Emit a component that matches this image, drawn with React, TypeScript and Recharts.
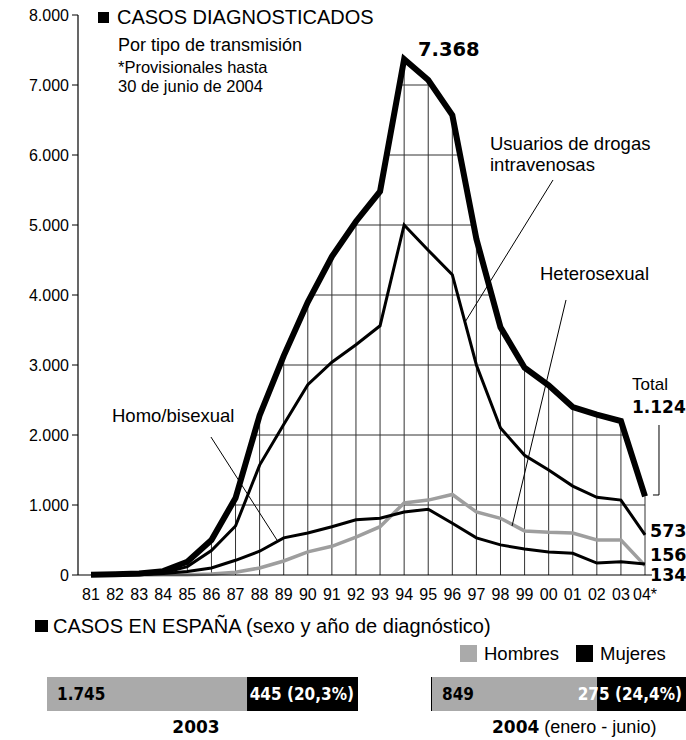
import React from "react";
import { ComposedChart, Line, XAxis, YAxis, ReferenceLine, BarChart, Bar, LabelList } from "recharts";

// años 1981-2004 (2004 provisional hasta junio)
const years = [81, 82, 83, 84, 85, 86, 87, 88, 89, 90, 91, 92, 93, 94, 95, 96, 97, 98, 99, 100, 101, 102, 103, 104];
const yearLabels = ["81", "82", "83", "84", "85", "86", "87", "88", "89", "90", "91", "92", "93", "94", "95", "96", "97", "98", "99", "00", "01", "02", "03", "04*"];

const total = [5, 10, 20, 55, 190, 500, 1100, 2280, 3130, 3900, 4550, 5050, 5480, 7368, 7070, 6570, 4800, 3540, 2960, 2710, 2400, 2290, 2200, 1124];
const drogas = [0, 5, 10, 30, 120, 350, 700, 1570, 2150, 2720, 3040, 3290, 3560, 5000, 4640, 4290, 3000, 2100, 1710, 1500, 1270, 1110, 1070, 573];
const homo = [0, 0, 5, 20, 50, 100, 210, 340, 530, 600, 690, 790, 810, 900, 940, 740, 530, 430, 370, 330, 310, 170, 190, 156];
const hetero = [0, 0, 0, 2, 5, 15, 40, 100, 200, 330, 410, 540, 690, 1030, 1070, 1150, 900, 810, 630, 610, 600, 500, 500, 134];

const yTicks = [0, 1000, 2000, 3000, 4000, 5000, 6000, 7000, 8000];

// casos en España por sexo
const sexYears = ["2003", "2004"];
const hombres = [1745, 849];
const mujeres = [445, 275];
const pctMujeres = ["20,3", "24,4"];

const rows = years.map((y, i) => ({ year: y, total: total[i], drogas: drogas[i], homo: homo[i], hetero: hetero[i] }));

const SANS = "'Liberation Sans', Arial, Helvetica, sans-serif";
const BOLD = "'DejaVu Sans', 'Liberation Sans', sans-serif";
const COND = "'DejaVu Sans Condensed', 'DejaVu Sans', sans-serif";

const fmt = (v: number) => (v >= 1000 ? `${Math.floor(v / 1000)}.${String(v % 1000).padStart(3, "0")}` : String(v));

// tramos horizontales de la rejilla, recortados bajo la curva total
function gridRows() {
  const out: { k: number; x1: number; x2: number }[] = [];
  for (const k of yTicks.slice(1, -1)) {
    let x1: number | null = null;
    let x2: number | null = null;
    for (let i = 0; i < total.length - 1; i++) {
      const a = total[i], b = total[i + 1];
      if (x1 === null && a < k && b >= k) x1 = years[i] + (k - a) / (b - a);
      if (a >= k && b < k) x2 = years[i] + (a - k) / (a - b);
    }
    if (x1 === null) continue;
    if (x2 === null || x2 < x1) x2 = years[years.length - 1];
    out.push({ k, x1, x2 });
  }
  return out;
}

const GRID = "#333";

function HombresLabel(props: any) {
  const vb = props.viewBox || props;
  const x = Math.max(vb.x, 0) + 10;
  return (
    <text x={x} y={vb.y + vb.height / 2} dy="0.36em" fill="#000" fontFamily={COND} fontWeight="bold" fontSize={17} style={{ fontStretch: "condensed" }}>
      {fmt(props.value)}
    </text>
  );
}

function makeMujeresLabel(pct: string) {
  return function MujeresLabel(props: any) {
    const vb = props.viewBox || props;
    return (
      <text x={vb.x + vb.width - 4} y={vb.y + vb.height / 2} dy="0.36em" textAnchor="end" fill="#fff" fontFamily={COND} fontWeight="bold" fontSize={17} style={{ fontStretch: "condensed" }}>
        {`${props.value} (${pct}%)`}
      </text>
    );
  };
}

function SexBar({ idx, width, min }: { idx: number; width: number; min: number }) {
  const data = [{ name: sexYears[idx], hombres: hombres[idx], mujeres: mujeres[idx] }];
  return (
    <BarChart width={width} height={34} layout="vertical" data={data} margin={{ top: 0, right: 0, left: 0, bottom: 0 }} barCategoryGap={0}>
      <XAxis type="number" hide domain={[min, hombres[idx] + mujeres[idx]]} allowDataOverflow />
      <YAxis type="category" dataKey="name" hide />
      <Bar dataKey="hombres" stackId="s" fill="#aaaaaa" isAnimationActive={false}>
        <LabelList dataKey="hombres" content={HombresLabel} />
      </Bar>
      <Bar dataKey="mujeres" stackId="s" fill="#000" isAnimationActive={false}>
        <LabelList dataKey="mujeres" content={makeMujeresLabel(pctMujeres[idx])} />
      </Bar>
    </BarChart>
  );
}

export default function App() {
  const hrows = gridRows();
  const t = { fontFamily: SANS, fill: "#000" };
  return (
    <div style={{ position: "absolute", left: 0, top: 0, width: 686, height: 740, overflow: "hidden", background: "#fff" }}>
      <div style={{ position: "absolute", left: 0, top: 0 }}>
        <ComposedChart width={686} height={610} data={rows} margin={{ top: 15, right: 34, left: 0, bottom: 5 }}>
          <XAxis
            dataKey="year"
            type="number"
            domain={[80.46, 104.29]}
            allowDataOverflow
            ticks={years}
            interval={0}
            tickFormatter={(v: number) => yearLabels[years.indexOf(v)]}
            tickLine={false}
            tickSize={6}
            tickMargin={8}
            height={30}
            axisLine={{ stroke: "#000", strokeWidth: 1.2 }}
            tick={{ fill: "#000", fontSize: 16, fontFamily: SANS }}
          />
          <YAxis
            type="number"
            domain={[0, 8000]}
            ticks={yTicks}
            interval={0}
            tickFormatter={fmt}
            width={78}
            tickSize={6}
            tickMargin={3}
            axisLine={{ stroke: "#000", strokeWidth: 1.2 }}
            tickLine={{ stroke: "#000" }}
            tick={{ fill: "#000", fontSize: 16, fontFamily: SANS }}
          />
          {/* rejilla bajo la curva total */}
          {rows.map((r) => (
            <ReferenceLine key={"v" + r.year} segment={[{ x: r.year, y: 0 }, { x: r.year, y: r.total }]} stroke={GRID} strokeWidth={1} />
          ))}
          {hrows.map((h) => (
            <ReferenceLine key={"h" + h.k} segment={[{ x: h.x1, y: h.k }, { x: h.x2, y: h.k }]} stroke={GRID} strokeWidth={1} />
          ))}

          <Line type="linear" dataKey="hetero" stroke="#9e9e9e" strokeWidth={3.5} dot={false} isAnimationActive={false} />
          <Line type="linear" dataKey="homo" stroke="#000" strokeWidth={3} dot={false} isAnimationActive={false} />
          <Line type="linear" dataKey="drogas" stroke="#000" strokeWidth={3} dot={false} isAnimationActive={false} />
          <Line type="linear" dataKey="total" stroke="#000" strokeWidth={6} dot={false} isAnimationActive={false} />

          {/* líneas de referencia de las etiquetas */}
          <ReferenceLine segment={[{ x: 100.18, y: 5643 }, { x: 96.53, y: 3614 }]} stroke="#000" strokeWidth={1} ifOverflow="visible" />
          <ReferenceLine segment={[{ x: 100.72, y: 3929 }, { x: 98.48, y: 700 }]} stroke="#000" strokeWidth={1} ifOverflow="visible" />
          <ReferenceLine segment={[{ x: 85.98, y: 1971 }, { x: 88.72, y: 500 }]} stroke="#000" strokeWidth={1} ifOverflow="visible" />
          <ReferenceLine segment={[{ x: 104.58, y: 2143 }, { x: 104.58, y: 1143 }]} stroke="#000" strokeWidth={1} ifOverflow="visible" />
          <ReferenceLine segment={[{ x: 104.33, y: 1143 }, { x: 104.58, y: 1143 }]} stroke="#000" strokeWidth={1} ifOverflow="visible" />
        </ComposedChart>
      </div>

      <svg width={686} height={740} style={{ position: "absolute", left: 0, top: 0, pointerEvents: "none" }}>
        <rect x={98} y={12} width={11} height={11} fill="#000" />
        <text x={117} y={24} fontSize={20} {...t}>CASOS DIAGNOSTICADOS</text>
        <text x={118} y={51} fontSize={18} {...t}>Por tipo de transmisión</text>
        <text x={118} y={73} fontSize={16.5} {...t}>*Provisionales hasta</text>
        <text x={118} y={92} fontSize={16.5} {...t}>30 de junio de 2004</text>
        <text x={418} y={56} fontSize={19.5} fontWeight="bold" fontFamily={BOLD}>{fmt(Math.max(...total))}</text>

        <text x={490} y={150} fontSize={18.5} {...t}>Usuarios de drogas</text>
        <text x={490} y={171} fontSize={18.5} {...t}>intravenosas</text>
        <text x={540} y={280} fontSize={18.5} {...t}>Heterosexual</text>
        <text x={112} y={422} fontSize={18.5} {...t}>Homo/bisexual</text>

        <text x={632} y={390} fontSize={17} {...t}>Total</text>
        <text x={632} y={413} fontSize={17} fontWeight="bold" fontFamily={BOLD}>{fmt(total[total.length - 1])}</text>
        <text x={650} y={537} fontSize={17.5} fontWeight="bold" fontFamily={BOLD}>{fmt(drogas[drogas.length - 1])}</text>
        <text x={650} y={561} fontSize={17.5} fontWeight="bold" fontFamily={BOLD}>{fmt(homo[homo.length - 1])}</text>
        <text x={650} y={581} fontSize={17.5} fontWeight="bold" fontFamily={BOLD}>{fmt(hetero[hetero.length - 1])}</text>

        <rect x={35} y={620} width={13} height={12} fill="#000" />
        <text x={53} y={633} fontSize={20} {...t}>CASOS EN ESPAÑA (sexo y año de diagnóstico)</text>

        <rect x={460} y={645} width={17} height={17} fill="#aaaaaa" />
        <text x={484} y={660} fontSize={18.5} {...t}>Hombres</text>
        <rect x={576} y={645} width={17} height={17} fill="#000" />
        <text x={600} y={660} fontSize={18.5} {...t}>Mujeres</text>

        <text x={196} y={733} textAnchor="middle" fontSize={17} fontWeight="bold" fontFamily={BOLD}>{sexYears[0]}</text>
        <text x={492} y={733} fontSize={17} fontWeight="bold" fontFamily={BOLD}>
          {sexYears[1]}
          <tspan fontFamily={SANS} fontWeight="normal" fontSize={18}> (enero - junio)</tspan>
        </text>
      </svg>

      <div style={{ position: "absolute", left: 47, top: 677 }}>
        <SexBar idx={0} width={311} min={943} />
      </div>
      <div style={{ position: "absolute", left: 431, top: 677, borderLeft: "1px solid #000" }}>
        <SexBar idx={1} width={254} min={339} />
      </div>
    </div>
  );
}
